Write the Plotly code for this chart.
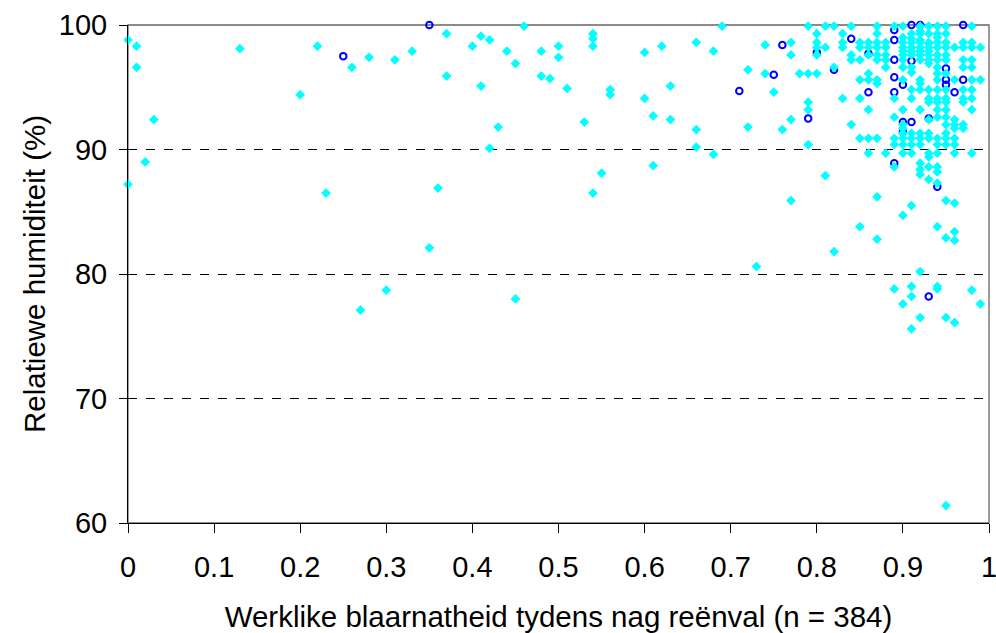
import plotly.graph_objects as go

# Leaf wetness fraction vs. relative humidity, two observation groups
wet_x = [
    0.00, 0.01, 0.01, 0.03, 0.02, 0.00, 0.13, 0.22, 0.26, 0.20, 0.23, 0.28, 0.31, 0.33,
    0.37, 0.37, 0.40, 0.41, 0.42, 0.41, 0.46, 0.44, 0.45, 0.48, 0.48, 0.49, 0.50, 0.50,
    0.51, 0.54, 0.54, 0.54, 0.43, 0.42, 0.53, 0.36, 0.54, 0.56, 0.56, 0.55, 0.60, 0.62,
    0.60, 0.61, 0.63, 0.63, 0.61, 0.66, 0.68, 0.66, 0.66, 0.68, 0.69, 0.72, 0.72, 0.74,
    0.74, 0.75, 0.77, 0.77, 0.77, 0.76, 0.77, 0.73, 0.27, 0.30, 0.35, 0.45,
    # 99.9 row
    0.79, 0.81, 0.82, 0.84, 0.87, 0.89, 0.90, 0.92, 0.93, 0.94, 0.95, 0.98,
    # 99.3 row
    0.80, 0.83, 0.87, 0.91, 0.92, 0.93, 0.94, 0.95,
    # 98.6 row
    0.80, 0.83, 0.85, 0.86, 0.87, 0.88, 0.90, 0.91, 0.92, 0.93, 0.94, 0.95, 0.97, 0.98,
    # 98.2 row
    0.80, 0.81, 0.83, 0.85, 0.86, 0.87, 0.88, 0.90, 0.91, 0.92, 0.93, 0.94, 0.95, 0.96,
    0.97, 0.98, 0.99,
    # 97.6 row
    0.80, 0.84, 0.86, 0.87, 0.88, 0.90, 0.91, 0.92, 0.93, 0.94, 0.95,
    # 97.2 row
    0.84, 0.85, 0.87, 0.88, 0.90, 0.92, 0.93, 0.94, 0.95, 0.97, 0.98,
    # 96.6 row
    0.82, 0.88, 0.90, 0.91, 0.94, 0.97, 0.98,
    # 96.1 row
    0.78, 0.79, 0.80, 0.86, 0.94, 0.95,
    # 95.6 row
    0.85, 0.86, 0.87, 0.90, 0.92, 0.94, 0.96, 0.98, 0.99,
    # 95.3 row
    0.87, 0.92,
    # 94.8 row
    0.91, 0.92, 0.93, 0.94, 0.95, 0.97, 0.98,
    # 94.1 row
    0.83, 0.85, 0.89, 0.91, 0.93, 0.94, 0.95, 0.97, 0.98,
    # 93.8 row
    0.79, 0.93, 0.94, 0.95, 0.97,
    # 93.2 row
    0.79, 0.86, 0.90, 0.92, 0.94, 0.95, 0.98,
    # 92.6 - 91.3 rows
    0.89, 0.94, 0.95, 0.93, 0.96, 0.84, 0.90, 0.95, 0.96, 0.97, 0.90, 0.96, 0.97,
    0.90, 0.91, 0.92, 0.93, 0.95,
    # 90.9 row
    0.85, 0.86, 0.87, 0.89, 0.90, 0.91, 0.92, 0.93, 0.94, 0.95, 0.96,
    # 90.4 row
    0.79, 0.89, 0.90, 0.91, 0.92, 0.94, 0.95, 0.96,
    # 89.7 row
    0.86, 0.88, 0.90, 0.91, 0.93, 0.94, 0.96, 0.98,
    # dense core
    0.90, 0.91, 0.92, 0.93, 0.94, 0.91, 0.92, 0.93, 0.90, 0.92, 0.93, 0.91,
    # below 90
    0.93, 0.89, 0.92, 0.92, 0.92, 0.93, 0.94, 0.94, 0.94, 0.93, 0.81, 0.87, 0.91, 0.90,
    0.95, 0.96, 0.85, 0.87, 0.94, 0.95, 0.96, 0.96, 0.82, 0.92, 0.89, 0.91, 0.94, 0.94,
    0.98, 0.91, 0.90, 0.99, 0.92, 0.91, 0.95, 0.96, 0.95,
]
wet_y = [
    98.8, 98.3, 96.6, 92.4, 89.0, 87.2, 98.1, 98.3, 96.6, 94.4, 86.5, 97.4, 97.2, 97.9,
    99.3, 95.9, 98.3, 99.1, 98.8, 95.1, 99.9, 97.9, 96.9, 97.9, 95.9, 95.7, 98.3, 97.4,
    94.9, 99.3, 98.9, 98.3, 91.8, 90.1, 92.2, 86.9, 86.5, 94.8, 94.4, 88.1, 97.8, 98.3,
    94.1, 92.7, 95.1, 92.4, 88.7, 98.6, 97.9, 91.6, 90.2, 89.6, 99.9, 96.4, 91.8, 98.4,
    96.1, 94.6, 98.6, 97.6, 92.4, 91.6, 85.9, 80.6, 77.1, 78.7, 82.1, 78.0,
    99.9, 99.9, 99.9, 99.9, 99.9, 99.9, 99.9, 99.9, 99.9, 99.9, 99.9, 99.9,
    99.3, 99.3, 99.3, 99.3, 99.3, 99.3, 99.3, 99.3,
    98.6, 98.6, 98.6, 98.6, 98.6, 98.6, 98.6, 98.6, 98.6, 98.6, 98.6, 98.6, 98.6, 98.6,
    98.2, 98.2, 98.2, 98.2, 98.2, 98.2, 98.2, 98.2, 98.2, 98.2, 98.2, 98.2, 98.2, 98.2,
    98.2, 98.2, 98.2,
    97.6, 97.6, 97.6, 97.6, 97.6, 97.6, 97.6, 97.6, 97.6, 97.6, 97.6,
    97.2, 97.2, 97.2, 97.2, 97.2, 97.2, 97.2, 97.2, 97.2, 97.2, 97.2,
    96.6, 96.6, 96.6, 96.6, 96.6, 96.6, 96.6,
    96.1, 96.1, 96.1, 96.1, 96.1, 96.1,
    95.6, 95.6, 95.6, 95.6, 95.6, 95.6, 95.6, 95.6, 95.6,
    95.3, 95.3,
    94.8, 94.8, 94.8, 94.8, 94.8, 94.8, 94.8,
    94.1, 94.1, 94.1, 94.1, 94.1, 94.1, 94.1, 94.1, 94.1,
    93.8, 93.8, 93.8, 93.8, 93.8,
    93.2, 93.2, 93.2, 93.2, 93.2, 93.2, 93.2,
    92.6, 92.6, 92.6, 92.4, 92.4, 92.0, 92.0, 92.0, 92.0, 92.0, 91.7, 91.7, 91.7,
    91.3, 91.3, 91.3, 91.3, 91.3,
    90.9, 90.9, 90.9, 90.9, 90.9, 90.9, 90.9, 90.9, 90.9, 90.9, 90.9,
    90.4, 90.4, 90.4, 90.4, 90.4, 90.4, 90.4, 90.4,
    89.7, 89.7, 89.7, 89.7, 89.7, 89.7, 89.7, 89.7,
    99.0, 98.9, 98.8, 98.5, 99.0, 97.9, 97.9, 97.9, 97.9, 99.5, 96.9, 96.2,
    89.4, 88.6, 88.9, 88.4, 88.0, 88.6, 88.6, 88.2, 87.3, 87.6, 87.9, 86.2, 85.5, 84.7,
    85.9, 85.7, 83.8, 82.8, 83.8, 82.9, 83.4, 82.7, 81.8, 80.2, 78.8, 79.0, 79.0, 78.8,
    78.7, 78.2, 77.6, 77.6, 76.5, 75.6, 76.5, 76.1, 61.4,
]

dry_x = [
    0.25, 0.35, 0.71, 0.76, 0.75, 0.79, 0.82, 0.80, 0.84, 0.86, 0.86, 0.89, 0.89, 0.89,
    0.89, 0.89, 0.90, 0.90, 0.90, 0.91, 0.91, 0.91, 0.92, 0.93, 0.95, 0.95, 0.95, 0.97,
    0.97, 0.96, 0.89, 0.94, 0.93,
]
dry_y = [
    97.5, 100.0, 94.7, 98.4, 96.0, 92.5, 96.4, 97.8, 98.9, 97.7, 94.6, 99.6, 98.8, 97.2,
    95.8, 94.6, 95.2, 92.2, 91.4, 97.1, 92.2, 100.0, 100.0, 92.5, 96.5, 95.6, 95.2, 95.6,
    100.0, 94.6, 88.9, 87.0, 78.2,
]

x_ticks = [0, 0.1, 0.2, 0.3, 0.4, 0.5, 0.6, 0.7, 0.8, 0.9, 1]
x_tick_text = ["0", "0.1", "0.2", "0.3", "0.4", "0.5", "0.6", "0.7", "0.8", "0.9", "1"]
y_ticks = [60, 70, 80, 90, 100]

FONT = "Liberation Sans, Arial, sans-serif"

fig = go.Figure()
fig.add_trace(go.Scatter(
    x=dry_x, y=dry_y, mode="markers", showlegend=False,
    marker=dict(symbol="circle-open", size=6.5, color="#0000FF", line=dict(width=2, color="#0000FF")),
    cliponaxis=False,
))
fig.add_trace(go.Scatter(
    x=wet_x, y=wet_y, mode="markers", showlegend=False,
    marker=dict(symbol="diamond", size=7.5, color="#00FFFF", line=dict(width=0)),
    cliponaxis=False,
))

# plot-area frame (top and right edges in grey)
fig.add_shape(type="rect", xref="paper", yref="paper", x0=0, x1=1, y0=0, y1=1,
              line=dict(color="#666666", width=1.3), layer="between")

fig.update_layout(
    width=996, height=633,
    margin=dict(l=128, r=7, t=25, b=110),
    paper_bgcolor="white", plot_bgcolor="white",
    font=dict(family=FONT, size=29, color="black"),
    xaxis=dict(
        range=[0, 1], tickvals=x_ticks, ticktext=x_tick_text,
        showline=True, linecolor="black", linewidth=1,
        ticks="outside", ticklen=9, tickcolor="black", tickwidth=1,
        showgrid=False, zeroline=False, automargin=False,
        tickfont=dict(size=29), ticklabelstandoff=9, ticklabeloverflow="allow",
        title=dict(text="Werklike blaarnatheid tydens nag reënval (n = 384)",
                   font=dict(size=29.5), standoff=29),
    ),
    yaxis=dict(
        range=[60, 100], tickvals=y_ticks,
        showline=True, linecolor="black", linewidth=1,
        ticks="outside", ticklen=8, tickcolor="black", tickwidth=1,
        showgrid=True, gridcolor="black", gridwidth=1, griddash="dash",
        zeroline=False, automargin=False,
        tickfont=dict(size=29), ticklabelstandoff=6,
        title=dict(text="Relatiewe humiditeit (%)", font=dict(size=29.5), standoff=4),
    ),
)

fig.write_html("out.html")
